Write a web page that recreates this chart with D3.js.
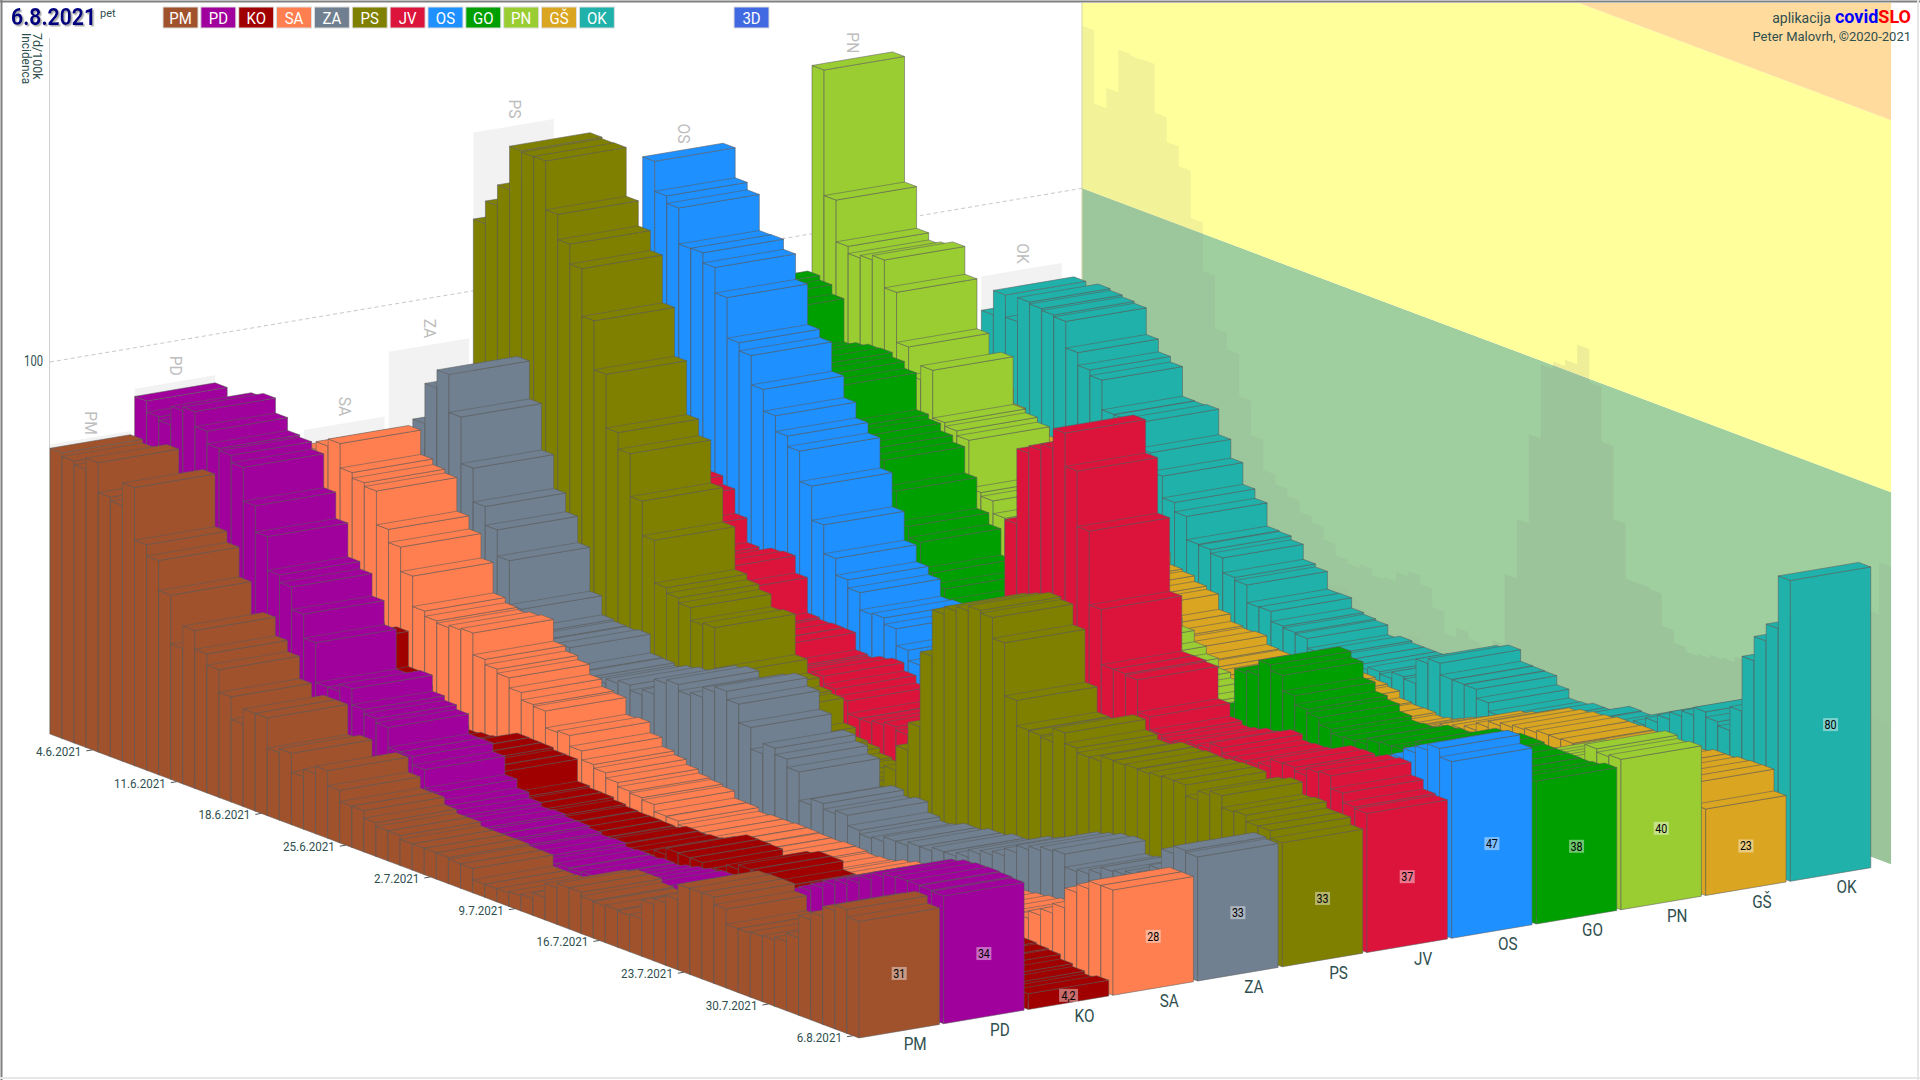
<!DOCTYPE html>
<html><head><meta charset="utf-8">
<style>html,body{margin:0;padding:0;background:#fff;overflow:hidden}svg{display:block}text{font-family:"Roboto",sans-serif}</style>
<script src="https://cdn.jsdelivr.net/npm/d3@7"></script></head><body>
<script>
const regions=["PM","PD","KO","SA","ZA","PS","JV","OS","GO","PN","GŠ","OK"];
const colors=["#A0522D","#A0009B","#A00000","#FF7F50","#708090","#808000","#DC143C","#1E90FF","#009F00","#9ACD32","#DAA520","#20B2AA"];
const valuePM=[76,75,74,77,69,68,74,60,57,49,36,42,37,34,28,22,26,26,18,19,14,16,18,14,11,11,9,8,8,7,7,7,7,6.5,6.5,3.5,3.5,3.6,4,4.5,6,9.8,11,11,10,9.7,10,9.7,10,15,16.6,18.7,22.8,23,23,21,17,17,17.4,17.6,18.4,20.6,26.6,28.7,31.4,33,31];
const valuePD=[86,83,82,87,88,84,80.6,80,78,69,62,53,51,45,38.6,28,28,30,25.7,24.5,23.3,18,18,15.7,10.8,8.5,7,6,6.3,5.7,5.6,5,4.5,4.7,3.8,4.1,3.9,4.3,4.1,4.9,5.7,6.4,7,7,7,7,7,7,8,10,12,14,16,18,20,22,24,26,27.5,29,31,33,34,34.4,34.5,34.3,34];
const valueKO=[32,30,30,31,31,29,27,26,27,17.6,15,12,9,8,6.9,7.4,7.7,9,10.8,10.7,10.6,10,9.9,4,3.5,3.4,2.7,2.2,2,2,1.9,1.7,2.9,2.7,3.1,3.5,5,6.7,6.6,6.5,4.6,6.2,8.3,9.5,9.4,7.1,6.9,7,7.5,8,8,8.5,9,9,8.5,8,8,7.5,7,7,7,6.6,6.3,5,4.2,3.5,4.2];
const valueSA=[65.5,67.6,69.5,63,61.5,60.5,51.5,48,41.5,33.4,32,31.4,32,32.4,26.6,25.2,24.1,21.4,19.4,18.9,14.4,14.8,11.9,9.5,8.5,7.1,6,5.5,4.9,3,2.9,1.9,2.2,2.2,2.4,2.3,2.1,2,2.3,2.2,1.7,2,2.3,3.5,4.3,5,4.9,5,5.5,6,6,6.5,7,7.5,8,8.5,9,9.5,10.5,12,14,15.8,18.4,23.7,25.9,28,28];
const valueZA=[58,62,71,81.7,86.5,76.4,64,55,50,43,31.3,26.2,25.7,25.5,25.9,20.9,20.7,20,21.2,22,20.6,22,26,27,25.3,26,28.6,30,27.8,22.8,17,19.7,18,15.8,8.2,9.8,8.3,9.1,6.3,5.3,5.7,7,7,8,8,9,9,10,12,13,14,16,18,19,20,20.5,17,17.6,18.8,20.6,21,22,23,26,31.5,33.5,33];
const valuePS=[118,124,129.5,141,140.6,140.7,127.7,121,115.7,103,90,75.7,71.3,59.9,50.7,39.3,37.8,36.4,33,33.5,22.7,19,16.7,16,9.4,7,6.4,5,4.4,4.5,5,5.5,6.5,8,13.6,20.2,27.6,47.6,60,62,63.3,64.6,63.9,58.4,44.3,37.6,37.4,36.9,40.5,37.7,36.4,36.5,38,37.9,38.2,38,38.4,38.7,38.7,35.8,38.4,39.5,36.3,36.7,35,35,33];
const valueJV=[40,42,45,48,50,50,50.8,48.5,42,35.5,32,36.4,36.8,32.2,22.8,22.3,22.5,22.4,17.8,17.3,18.5,19.2,17,15,11.6,11.5,12.2,13,12,11,10,10,10,14,20,39,55,79,99,101,102.7,108,99.1,84.3,64.7,50,50,49.6,41,37.5,36.5,37,38,38.5,40,38.5,38.8,39,39.7,41.8,42,41,43,43.4,40,37.5,37];
const valueOS=[127,119,117,107.4,107.5,104.8,98,87.2,85,77.2,71.4,67.2,64.4,56.3,47.2,39.5,35,32.8,28.2,28.5,26.8,22.3,19.5,18,15,13,12,11,10,9,9,8,8,8,9,9,10,10,11,12,14,15,17,18,20,20,21,22,22,23,24,24,25,26,27,28,30,32,34,36,38,41,43,45.7,47.6,49.3,47];
const valueGO=[89.2,88,85.5,74,75,75.8,76,74.8,73,63.2,62,60,58.2,51.2,43,40,33,30,27,24,22,20,19,17,15,14,13,12,12,11,12,12,13,13,14,15,16,18,20,22,25,27,37.7,38.4,42.4,40.8,36.6,34.2,33.2,31.3,30.2,30.5,30.8,32.4,32.8,33,34,36.4,37,37.5,37.5,37,37,37,36.9,37.2,38];
const valuePN=[143.7,110.3,99.2,97.3,98,99.2,91.8,78.5,71,74.7,62,61,59.7,47,46,42.6,40,38,35,32,30,27,25,22,20,17,15,12.5,11,9,8,8,7,7,8,8,9,10,10,11,12,13,13,14,15,15,16,17,18,19,20,21,22,23,24,25,26,28,30,32,33,34,35,36,40.4,39.5,40];
const valueGS=[55,52,54,50,48,47,45,44,42,40,38,36,33,30,28,26,22.9,22.3,20.8,19.9,15.8,13.8,13.3,13.6,11.3,11,10,10,10,11,12,13,13.4,12.8,12.2,10.4,10,10.1,9.5,10,11,12.5,13.9,15,17,19,20,21,23,24.6,25.4,26,26.4,27,27,27.2,27,26,26,27,27,28,28,28.5,28.7,28.8,23];
const valueOK=[71,77.5,71.6,78,77.5,77,76.5,69.4,66,64.5,56.6,56.5,56.8,50,45,39.2,36.7,30.5,30.3,29.3,25.3,24.5,19.8,19.9,17.2,16.7,16.3,13.7,14.5,14,14,14,14.7,14.1,15.8,15.2,21.7,23,19.9,19.8,19.7,17.3,15,15.2,16,16,17,18.8,18.6,18.7,18.9,22,24,26,27,29,31,33,34.5,36.6,35.2,34.1,40.4,55,61.5,66,80];
const series=[valuePM,valuePD,valueKO,valueSA,valueZA,valuePS,valueJV,valueOS,valueGO,valuePN,valueGS,valueOK];
const lastLabels=["31","34","4,2","28","33","33","37","47","38","40","23","80"];
const tickDays=[3,10,17,24,31,38,45,52,59,66];
const tickLabels=["4.6.2021","11.6.2021","18.6.2021","25.6.2021","2.7.2021","9.7.2021","16.7.2021","23.7.2021","30.7.2021","6.8.2021"];
const wallZones=[{from:0,to:100,c:"#A0CF9F"},{from:100,to:200,c:"#FFFF9C"},{from:200,to:330,c:"#FFDB9E"}];
series.forEach((s,i)=>{if(s.length!==67)throw new Error(regions[i]+" length "+s.length)});

const W=1920,H=1080;
const originX=50,originY=734;
const barW=.95;
const rx=d3.scaleLinear().domain([0,12]).range([0,1016]);
const ry=d3.scaleLinear().domain([0,12]).range([0,-171]);
const dx=d3.scaleLinear().domain([0,67]).range([0,809]);
const dy=d3.scaleLinear().domain([0,67]).range([0,304]);
const hb=d3.scaleLinear().domain([0,100]).range([0,376]);
const hw=d3.scaleLinear().domain([0,100]).range([0,372]);
const P=(r,d,v,h=hb)=>[originX+rx(r)+dx(d),originY+ry(r)+dy(d)-h(v)];
const poly=pts=>{const p=d3.path();pts.forEach((q,i)=>i?p.lineTo(q[0],q[1]):p.moveTo(q[0],q[1]));p.closePath();return p.toString();};
const narrow=(t,f)=>{const n=t.node();t.attr("textLength",n.getComputedTextLength()*f).attr("lengthAdjust","spacingAndGlyphs");return t;};

const svg=d3.select("body").append("svg").attr("width",W).attr("height",H);
const defs=svg.append("defs");
defs.append("clipPath").attr("id","wallclip").append("rect").attr("x",1082).attr("y",3).attr("width",811).attr("height",900);
defs.append("filter").attr("id","sh").append("feDropShadow").attr("dx",1.5).attr("dy",1.5).attr("stdDeviation",.6).attr("flood-color","#aaa");

const wallR=12.19;
const wall=svg.append("g").attr("clip-path","url(#wallclip)");
wallZones.forEach(z=>wall.append("path").attr("d",poly([P(wallR,0,z.from,hw),P(wallR,67,z.from,hw),P(wallR,67,z.to,hw),P(wallR,0,z.to,hw)])).attr("fill",z.c));
const maxByDay=d3.range(67).map(d=>d3.max(series,s=>s[d]));
const profile=vals=>{const pts=[P(wallR,0,0,hw)];vals.forEach((v,d)=>{pts.push(P(wallR,d,v,hw));pts.push(P(wallR,d+1,v,hw));});pts.push(P(wallR,67,0,hw));return poly(pts);};
wall.append("path").attr("d",profile(maxByDay)).attr("fill","#808080").attr("fill-opacity",.1);
wall.append("path").attr("d",profile(valueJV)).attr("fill","#808080").attr("fill-opacity",.035);
svg.append("line").attr("x1",1082).attr("x2",1082).attr("y1",3).attr("y2",559).attr("stroke","#d4d4a0").attr("stroke-width",1);

// axis + grid
svg.append("line").attr("x1",49.5).attr("x2",49.5).attr("y1",38).attr("y2",734).attr("stroke","#d0d0d0");
const g0=P(0,0,100,hw),g1=P(wallR,0,100,hw);
svg.append("line").attr("x1",g0[0]).attr("y1",g0[1]).attr("x2",g1[0]).attr("y2",g1[1]).attr("stroke","#c8c8c8").attr("stroke-dasharray","4 3");
narrow(svg.append("text").attr("x",43).attr("y",366).attr("text-anchor","end").attr("font-size",14).attr("fill","#2F4F4F").text("100"),.8);
narrow(svg.append("text").attr("transform","translate(22,33) rotate(90)").attr("font-size",13.5).attr("fill","#2F4F4F").text("Incidenca"),.88);
narrow(svg.append("text").attr("transform","translate(33,33) rotate(90)").attr("font-size",12.5).attr("fill","#2F4F4F").text("7d/100k"),1);

// plates + region names on the back
regions.forEach((name,r)=>{
  const m=d3.max(series[r]);
  svg.append("path").attr("d",poly([P(r,0,0),P(r+barW,0,0),P(r+barW,0,m),P(r,0,m)])).attr("fill","#F2F2F2");
  const t=P(r+.5,0,m);
  narrow(svg.append("text").attr("transform",`translate(${t[0]-7},${t[1]-26}) rotate(90)`).attr("font-size",17).attr("fill","#BDBDBD").text(name),.92);
});

// bars: far regions first, older days first
const bars=svg.append("g").attr("stroke","#5a5a5a").attr("stroke-opacity",.72).attr("stroke-width",.75).attr("stroke-linejoin","round");
d3.range(11,-1,-1).forEach(r=>{
  const data=series[r].map((v,d)=>({v,d}));
  const g=bars.append("g").attr("fill",colors[r]);
  const b=g.selectAll("g").data(data).join("g");
  b.append("path").attr("d",o=>poly([P(r,o.d,0),P(r,o.d+1,0),P(r,o.d+1,o.v),P(r,o.d,o.v)]));
  b.append("path").attr("d",o=>poly([P(r,o.d+1,0),P(r+barW,o.d+1,0),P(r+barW,o.d+1,o.v),P(r,o.d+1,o.v)]));
  b.append("path").attr("d",o=>poly([P(r,o.d,o.v),P(r,o.d+1,o.v),P(r+barW,o.d+1,o.v),P(r+barW,o.d,o.v)]));
});

// value labels on last bars
regions.forEach((name,r)=>{
  const v=series[r][66], c=P(r+barW/2,67,v/2);
  const w=lastLabels[r].length>2?19:15;
  svg.append("rect").attr("x",c[0]-w/2).attr("y",c[1]-6).attr("width",w).attr("height",13).attr("fill","#fff").attr("fill-opacity",.42);
  narrow(svg.append("text").attr("x",c[0]).attr("y",c[1]+5).attr("text-anchor","middle").attr("font-size",13).attr("fill","#000").text(lastLabels[r]),.82);
  const b=P(r+barW/2,67,0);
  narrow(svg.append("text").attr("x",b[0]+16).attr("y",b[1]+19).attr("text-anchor","middle").attr("font-size",18).attr("fill","#2F4F4F").text(name),.85);
});

// date ticks
tickDays.forEach((d,i)=>{
  const p=P(0,d+.5,0);
  svg.append("line").attr("x1",p[0]-6).attr("y1",p[1]+1).attr("x2",p[0]).attr("y2",p[1]).attr("stroke","#555");
  narrow(svg.append("text").attr("x",p[0]-11).attr("y",p[1]+6).attr("text-anchor","end").attr("font-size",13.5).attr("fill","#2F4F4F").text(tickLabels[i]),.86);
});

// header
narrow(svg.append("text").attr("x",11).attr("y",25).attr("font-size",23).attr("font-weight",700).attr("fill","#000080").attr("filter","url(#sh)").text("6.8.2021"),.92);
svg.append("text").attr("x",100).attr("y",17).attr("font-size",11).attr("fill","#2F4F4F").text("pet");
const leg=svg.append("g");
regions.forEach((name,r)=>{
  const x=163+r*37.85;
  leg.append("rect").attr("x",x).attr("y",7).attr("width",35).attr("height",21).attr("fill",colors[r]).attr("stroke","#ddd").attr("stroke-width",1);
  narrow(leg.append("text").attr("x",x+17.5).attr("y",23.5).attr("text-anchor","middle").attr("font-size",17).attr("fill","#fff").text(name),.88);
});
leg.append("rect").attr("x",734).attr("y",7).attr("width",35).attr("height",21).attr("fill","#4169E1").attr("stroke","#ddd");
narrow(leg.append("text").attr("x",751.5).attr("y",23.5).attr("text-anchor","middle").attr("font-size",17).attr("fill","#fff").text("3D"),.88);
const slo=svg.append("text").attr("x",1911).attr("y",23).attr("text-anchor","end").attr("font-size",18).attr("font-weight",700).attr("fill","#FF0000").text("SLO");
const sloW=slo.node().getComputedTextLength();
const cov=svg.append("text").attr("x",1911-sloW).attr("y",23).attr("text-anchor","end").attr("font-size",18).attr("font-weight",700).attr("fill","#0000FF").text("covid");
const covW=cov.node().getComputedTextLength();
svg.append("text").attr("x",1911-sloW-covW-4).attr("y",23).attr("text-anchor","end").attr("fill","#2F4F4F").attr("font-size",14).text("aplikacija");
svg.append("text").attr("x",1911).attr("y",41).attr("text-anchor","end").attr("fill","#2F4F4F").attr("font-size",13).text("Peter Malovrh, ©2020-2021");

// frame
svg.append("line").attr("x1",0).attr("x2",W).attr("y1",1.5).attr("y2",1.5).attr("stroke","#808080").attr("stroke-width",2);
svg.append("line").attr("x1",1.5).attr("x2",1.5).attr("y1",0).attr("y2",H).attr("stroke","#808080").attr("stroke-width",2);
svg.append("line").attr("x1",0).attr("x2",W).attr("y1",1078).attr("y2",1078).attr("stroke","#e6e6e6").attr("stroke-width",2);
svg.append("line").attr("x1",1918).attr("x2",1918).attr("y1",0).attr("y2",H).attr("stroke","#e6e6e6").attr("stroke-width",2);
</script></body></html>
